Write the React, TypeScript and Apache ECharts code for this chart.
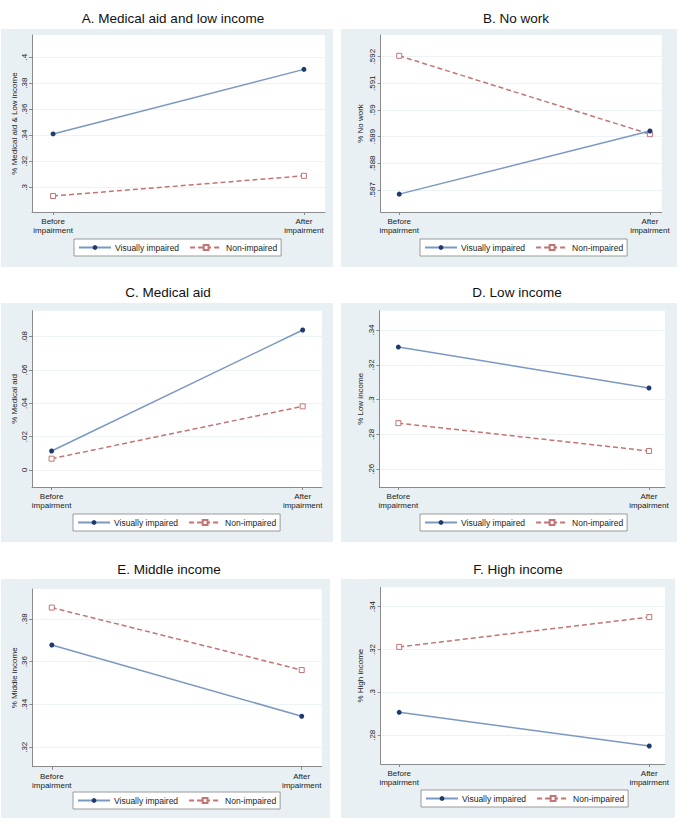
import React, { useEffect, useRef } from "react";
import * as echarts from "echarts";

const timeLabels = ["Before\nimpairment", "After\nimpairment"];
const seriesNames = ["Visually impaired", "Non-impaired"];

const titles = [
  "A. Medical aid and low income",
  "B. No work",
  "C. Medical aid",
  "D. Low income",
  "E. Middle income",
  "F. High income",
];
const yNames = [
  "% Medical aid & Low income",
  "% No work",
  "% Medical aid",
  "% Low income",
  "% Middle income",
  "% High income",
];

// values [before, after]
const viA = [0.341, 0.3906];
const niA = [0.2933, 0.3088];
const viB = [0.58684, 0.58921];
const niB = [0.59203, 0.58909];
const viC = [0.0114, 0.084];
const niC = [0.0068, 0.0382];
const viD = [0.3302, 0.3067];
const niD = [0.2865, 0.2705];
const viE = [0.3678, 0.3345];
const niE = [0.3853, 0.3561];
const viF = [0.2907, 0.275];
const niF = [0.3212, 0.3351];

const ticksA = [0.3, 0.32, 0.34, 0.36, 0.38, 0.4];
const ticksB = [0.587, 0.588, 0.589, 0.59, 0.591, 0.592];
const ticksC = [0, 0.02, 0.04, 0.06, 0.08];
const ticksD = [0.26, 0.28, 0.3, 0.32, 0.34];
const ticksE = [0.32, 0.34, 0.36, 0.38];
const ticksF = [0.28, 0.3, 0.32, 0.34];

const viData = [viA, viB, viC, viD, viE, viF];
const niData = [niA, niB, niC, niD, niE, niF];
const tickSets = [ticksA, ticksB, ticksC, ticksD, ticksE, ticksF];

// layout (pixels)
const grids = [
  { left: 32, top: 35, width: 293, height: 177 },
  { left: 380.7, top: 35, width: 281, height: 177 },
  { left: 32, top: 310.7, width: 290, height: 176.3 },
  { left: 379.3, top: 310.7, width: 285.7, height: 176.3 },
  { left: 32.3, top: 589, width: 289.4, height: 177.7 },
  { left: 380.7, top: 587.3, width: 284.3, height: 176.7 },
];
const xRanges = [
  [-0.084, 1.084],
  [-0.074, 1.047],
  [-0.078, 1.077],
  [-0.076, 1.064],
  [-0.078, 1.08],
  [-0.074, 1.063],
];
const yRanges = [
  [0.281, 0.417],
  [0.58617, 0.59281],
  [-0.0102, 0.0956],
  [0.2498, 0.3511],
  [0.3109, 0.394],
  [0.2666, 0.349],
];
const panels = [
  { x: 1, y: 29, w: 332, h: 238 },
  { x: 341, y: 29, w: 336, h: 238 },
  { x: 1, y: 303, w: 332, h: 239 },
  { x: 341, y: 303, w: 336, h: 239 },
  { x: 1, y: 579, w: 329, h: 239 },
  { x: 341, y: 579, w: 334, h: 239 },
];
const titlePos = [
  { x: 168, y: 6 },
  { x: 511, y: 6 },
  { x: 163, y: 280 },
  { x: 512, y: 280 },
  { x: 164, y: 557 },
  { x: 513, y: 557 },
];
const legendPos = [
  { x: 74, y: 239 },
  { x: 420, y: 239 },
  { x: 73, y: 514 },
  { x: 420, y: 514 },
  { x: 73, y: 792 },
  { x: 421, y: 790 },
];
const nameGaps = [14, 16, 14, 15, 14, 16];

const BLUE_LINE = "#7b98c2";
const BLUE_MARK = "#1d3b6c";
const RED = "#c47474";
const FONT = "Liberation Sans, Arial, sans-serif";

function fmt(v: number): string {
  if (Math.abs(v) < 1e-9) return "0";
  const s = String(+v.toFixed(4));
  return s.replace(/^0\./, ".").replace(/^-0\./, "-.");
}

export default function App() {
  const ref = useRef<HTMLDivElement>(null);
  useEffect(() => {
    if (!ref.current) return;
    const chart = echarts.init(ref.current, undefined, { renderer: "svg" });

    const graphic: any[] = panels.map((p) => ({
      type: "rect",
      shape: { x: p.x, y: p.y, width: p.w, height: p.h },
      style: { fill: "#e9f0f3" },
      z: -10,
      silent: true,
    }));

    const option: any = {
      animation: false,
      backgroundColor: "#ffffff",
      textStyle: { fontFamily: FONT },
      graphic,
      title: titles.map((t, i) => ({
        text: t,
        left: titlePos[i].x,
        top: titlePos[i].y,
        textAlign: "center",
        textStyle: { fontSize: 13.5, fontWeight: "normal", color: "#111", fontFamily: FONT },
      })),
      legend: legendPos.map((l, i) => ({
        left: l.x,
        top: l.y,
        orient: "horizontal",
        data: seriesNames,
        itemWidth: 32,
        itemHeight: 6,
        itemGap: 10,
        padding: [4, 4, 4, 4],
        backgroundColor: "#ffffff",
        borderColor: "#9a9a9a",
        borderWidth: 1,
        borderRadius: 0,
        selectedMode: false,
        textStyle: { fontSize: 8.5, color: "#222", fontFamily: FONT, padding: [0, 0, 0, -1] },
      })),
      grid: grids.map((g) => ({
        left: g.left,
        top: g.top,
        width: g.width,
        height: g.height,
        show: true,
        backgroundColor: "#ffffff",
        borderWidth: 0,
        containLabel: false,
      })),
      xAxis: grids.map((_, i) => ({
        type: "value",
        gridIndex: i,
        min: xRanges[i][0],
        max: xRanges[i][1],
        axisLine: { show: true, onZero: false, lineStyle: { color: "#8a8a8a", width: 1 } },
        axisTick: { show: true, length: 3, customValues: [0, 1], lineStyle: { color: "#8a8a8a" } },
        axisLabel: {
          customValues: [0, 1],
          formatter: (v: number) => (Math.abs(v) < 0.5 ? timeLabels[0] : timeLabels[1]),
          fontSize: 8,
          lineHeight: 9,
          color: "#222",
          margin: 5,
          fontFamily: FONT,
        },
        splitLine: { show: false },
      })),
      yAxis: grids.map((_, i) => ({
        type: "value",
        gridIndex: i,
        min: yRanges[i][0],
        max: yRanges[i][1],
        name: yNames[i],
        nameLocation: "middle",
        nameRotate: 90,
        nameGap: nameGaps[i],
        nameTextStyle: { fontSize: 8, color: "#222", fontFamily: FONT },
        axisLine: { show: true, onZero: false, lineStyle: { color: "#8a8a8a", width: 1 } },
        axisTick: { show: true, length: 3, customValues: tickSets[i], lineStyle: { color: "#8a8a8a" } },
        axisLabel: {
          customValues: tickSets[i],
          rotate: 90,
          formatter: (v: number) => fmt(v),
          fontSize: 8,
          color: "#222",
          margin: 4,
          fontFamily: FONT,
        },
        splitLine: { show: true, lineStyle: { color: "#edf2f5", width: 1 } },
      })),
      series: grids.flatMap((_, i) => [
        {
          name: seriesNames[0],
          type: "line",
          xAxisIndex: i,
          yAxisIndex: i,
          data: viData[i].map((v, k) => [k, v]),
          symbol: "circle",
          symbolSize: 5,
          showSymbol: true,
          color: BLUE_MARK,
          lineStyle: { color: BLUE_LINE, width: 1.5, type: "solid" },
          itemStyle: { color: BLUE_MARK, borderWidth: 0 },
          z: 3,
        },
        {
          name: seriesNames[1],
          type: "line",
          xAxisIndex: i,
          yAxisIndex: i,
          data: niData[i].map((v, k) => [k, v]),
          symbol: "rect",
          symbolSize: 5,
          showSymbol: true,
          color: RED,
          lineStyle: { color: RED, width: 1.5, type: [5, 3] },
          itemStyle: { color: "#ffffff", borderColor: RED, borderWidth: 1 },
          z: 2,
        },
      ]),
    };
    chart.setOption(option);
    return () => chart.dispose();
  }, []);
  return (
    <div
      ref={ref}
      style={{ position: "absolute", left: 0, top: 0, width: 685, height: 827 }}
    />
  );
}
